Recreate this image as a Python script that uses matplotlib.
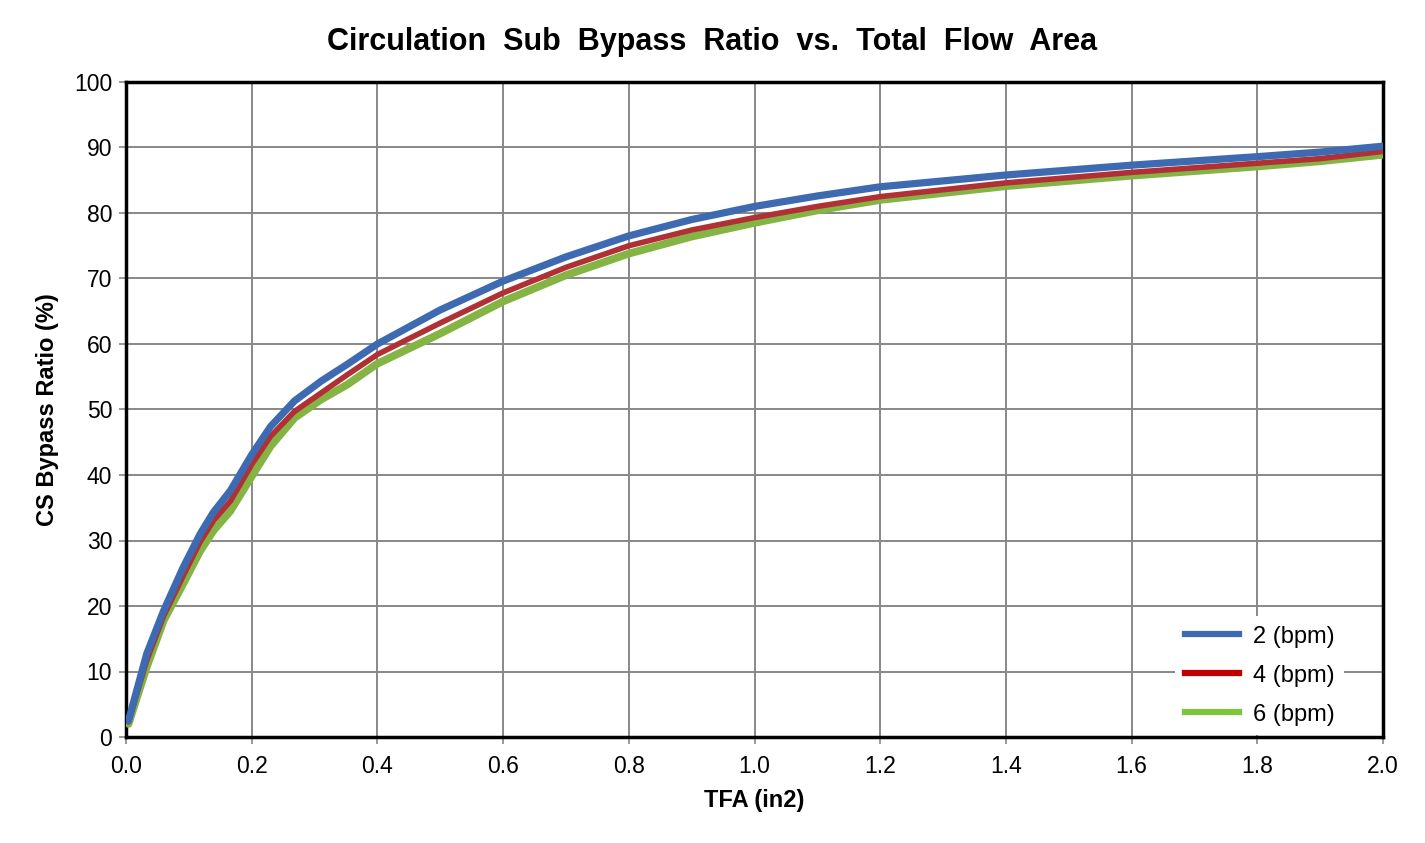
import matplotlib.pyplot as plt
from matplotlib.lines import Line2D

# TFA (in2) and bypass ratio (%)
tfa = [0.004, 0.033, 0.06, 0.091, 0.118, 0.139, 0.166, 0.2, 0.23, 0.268,
       0.31, 0.352, 0.4, 0.5, 0.6, 0.7, 0.8, 0.9, 1.0, 1.1, 1.2, 1.4, 1.6,
       1.8, 1.9, 2.0]
bpm2 = [2.5, 12.7, 19.3, 25.9, 31.0, 34.3, 37.6, 43.1, 47.4, 51.3,
        54.3, 56.9, 60.0, 65.2, 69.6, 73.3, 76.5, 79.0, 81.0, 82.6, 84.0,
        85.8, 87.3, 88.6, 89.3, 90.2]
bpm4 = [2.3, 11.7, 18.5, 24.6, 29.8, 33.0, 36.0, 41.6, 45.9, 49.7,
        52.5, 55.3, 58.4, 63.2, 67.8, 71.7, 75.0, 77.4, 79.3, 81.0, 82.5,
        84.6, 86.2, 87.6, 88.3, 89.4]
bpm6 = [2.0, 10.7, 17.8, 23.4, 28.4, 31.5, 34.5, 39.8, 44.4, 48.7,
        51.5, 53.8, 57.0, 61.6, 66.5, 70.5, 73.8, 76.4, 78.5, 80.4, 82.0,
        84.1, 85.7, 87.1, 87.9, 88.9]

plt.rcParams['font.family'] = ['Liberation Sans', 'DejaVu Sans']

fig = plt.figure(figsize=(14.25, 8.43), dpi=100)
ax = fig.add_axes([126 / 1425, 1 - 737 / 843, (1383 - 126) / 1425, (737 - 82) / 843])

kw = dict(solid_capstyle='round', solid_joinstyle='round')
ax.plot(tfa, bpm6, color='#84B443', lw=5.6, zorder=3, **kw)
ax.plot(tfa, bpm4, color='#B03035', lw=4.0, zorder=4, **kw)
ax.plot(tfa, bpm2, color='#3D6AB0', lw=5.2, zorder=5, **kw)

ax.set_xlim(0, 2.0)
ax.set_ylim(0, 100)
ax.set_xticks([i * 0.2 for i in range(11)])
ax.set_xticklabels([f'{i * 0.2:.1f}' for i in range(11)])
ax.set_yticks(range(0, 101, 10))
ax.tick_params(labelsize=16.5, length=5, width=1.2, color='#888888', pad=5)
ax.tick_params(axis='x', pad=8)
ax.grid(True, color='#888888', lw=1.4)
ax.set_axisbelow(True)
for s in ax.spines.values():
    s.set_linewidth(2.5)
    s.set_color('black')

ax.set_xlabel('TFA (in2)', fontsize=17, fontweight='bold', labelpad=8)
ax.set_ylabel('CS Bypass Ratio (%)', fontsize=17, fontweight='bold', labelpad=11)
fig.suptitle('Circulation  Sub  Bypass  Ratio  vs.  Total  Flow  Area',
             fontsize=22, fontweight='bold', y=0.968)

handles = [Line2D([], [], color='#3D6AB0', lw=4.5),
           Line2D([], [], color='#C00000', lw=4.5),
           Line2D([], [], color='#7DC63C', lw=4.5)]
leg = ax.legend(handles, ['2 (bpm)', '4 (bpm)', '6 (bpm)'], loc='lower right',
                bbox_to_anchor=(0.975, -0.008), fontsize=17, frameon=True,
                handlelength=2.3, handletextpad=0.6, labelspacing=0.72,
                borderpad=0.4, borderaxespad=0.3)
leg.get_frame().set_edgecolor('none')
leg.get_frame().set_facecolor('white')
leg.get_frame().set_alpha(1)

fig.savefig('out.png', dpi=100)
